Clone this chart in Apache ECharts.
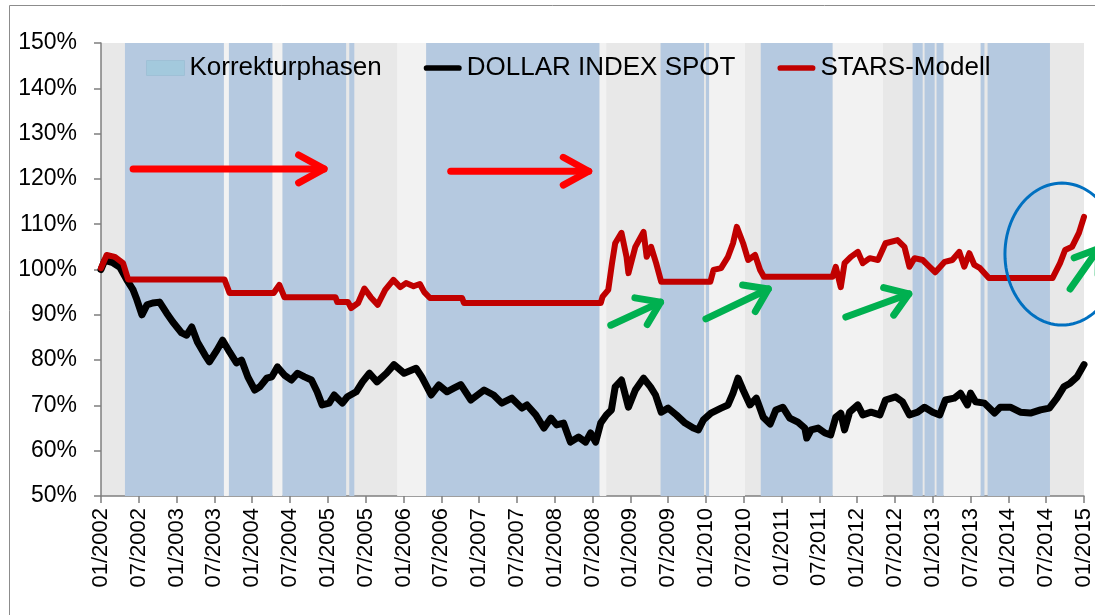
<!DOCTYPE html>
<html><head><meta charset="utf-8">
<script src="https://cdn.jsdelivr.net/npm/echarts@6/dist/echarts.min.js"></script>
<style>html,body{margin:0;padding:0;background:#fff}#c{width:1095px;height:615px}</style>
</head><body><div id="c"></div>
<script>
// x values are months since 01/2002
const xTickLabels = ['01/2002','07/2002','01/2003','07/2003','01/2004','07/2004','01/2005','07/2005','01/2006','07/2006','01/2007','07/2007','01/2008','07/2008','01/2009','07/2009','01/2010','07/2010','01/2011','07/2011','01/2012','07/2012','01/2013','07/2013','01/2014','07/2014','01/2015'];

const dollarIndex = [[0,100.0],[0.6,102.0],[1.9,101.5],[3.0,100.5],[4.1,97.7],[5.1,95.5],[5.7,93.3],[6.5,90.0],[7.3,92.2],[8.2,92.6],[9.3,92.8],[10.4,90.4],[11.4,88.4],[12.8,86.0],[13.6,85.5],[14.4,87.3],[15.3,84.0],[16.5,81.1],[17.2,79.6],[18.4,82.2],[19.3,84.4],[20.4,81.8],[21.5,79.4],[22.3,80.0],[23.3,76.3],[24.4,73.4],[25.2,74.1],[26.3,76.0],[27.1,76.3],[28.0,78.5],[29.1,76.7],[30.2,75.6],[31.2,77.1],[32.3,76.3],[33.4,75.6],[34.3,73.0],[35.1,70.1],[36.2,70.5],[37.0,72.3],[38.3,70.5],[39.1,71.9],[40.5,73.0],[41.5,75.2],[42.6,77.1],[43.8,75.2],[45.3,77.1],[46.5,79.0],[48.1,77.1],[50.0,78.2],[50.9,76.3],[52.4,72.3],[53.6,74.5],[54.9,73.0],[56.0,73.8],[57.1,74.6],[58.7,71.2],[60.8,73.4],[62.3,72.3],[63.6,70.5],[65.2,71.6],[66.8,69.4],[67.6,70.1],[69.0,67.9],[70.3,65.0],[71.4,67.2],[72.3,65.7],[73.4,66.1],[74.5,61.9],[75.8,63.0],[76.9,61.9],[77.7,63.9],[78.5,61.9],[79.3,66.1],[80.2,67.9],[81.0,69.0],[81.6,74.1],[82.6,75.6],[83.7,69.6],[84.8,73.4],[86.1,76.0],[87.2,74.1],[88.0,72.3],[88.9,68.5],[90.0,69.4],[91.3,67.9],[92.7,66.1],[94.0,65.0],[94.8,64.6],[95.6,66.8],[96.8,68.3],[98.4,69.4],[99.5,70.1],[100.3,72.7],[101.1,76.0],[101.9,73.4],[103.0,70.1],[104.0,71.6],[105.1,67.4],[106.2,65.9],[107.1,69.0],[108.2,69.6],[109.3,67.2],[110.6,66.3],[111.7,65.0],[112.0,62.8],[112.7,64.6],[113.8,65.0],[114.9,63.9],[115.8,63.5],[116.6,67.4],[117.4,68.3],[118.0,64.6],[118.8,68.5],[120.1,70.1],[120.9,67.9],[122.2,68.5],[123.6,67.9],[124.5,71.2],[126.1,71.9],[127.2,70.8],[128.3,67.9],[129.6,68.5],[130.7,69.6],[132.0,68.5],[133.1,67.9],[134.0,71.2],[135.4,71.6],[136.4,72.7],[137.5,70.1],[138.0,72.7],[138.8,70.8],[140.2,70.5],[141.8,68.3],[142.7,69.6],[144.3,69.6],[145.9,68.5],[147.5,68.3],[149.1,69.0],[150.5,69.4],[151.7,71.6],[152.8,74.1],[153.8,74.9],[154.9,76.3],[156.0,79.0]];

const starsModell = [[0,100.3],[0.9,103.2],[2.2,102.8],[3.5,101.4],[4.3,97.8],[19.6,97.8],[20.4,94.8],[27.4,94.8],[28.3,96.6],[29.1,93.9],[37.2,93.9],[37.5,92.8],[39.2,92.8],[39.7,91.5],[40.8,92.6],[41.8,95.8],[42.8,93.9],[43.9,92.2],[45.1,95.5],[46.4,97.7],[47.5,96.1],[48.4,97.0],[49.6,96.3],[50.6,96.8],[51.3,95.0],[52.2,93.7],[57.3,93.7],[57.6,92.6],[79.3,92.6],[79.6,94.0],[80.5,95.5],[81.1,101.4],[81.6,105.8],[82.6,108.1],[83.4,102.8],[83.7,99.2],[84.8,105.0],[86.1,108.3],[86.6,102.8],[87.3,105.0],[88.1,101.4],[88.9,97.3],[96.7,97.3],[97.2,99.9],[98.4,100.3],[99.5,102.8],[100.3,105.8],[100.9,109.4],[101.9,105.8],[102.7,102.1],[103.8,103.2],[104.6,99.9],[105.2,98.4],[116.1,98.4],[116.6,100.6],[117.4,96.1],[118.0,101.4],[119.0,102.8],[120.1,103.9],[120.9,101.4],[122.0,102.5],[123.3,102.1],[124.5,105.8],[126.4,106.5],[127.5,105.0],[128.3,100.6],[129.1,102.5],[130.4,102.1],[131.5,100.6],[132.4,99.4],[133.9,101.7],[135.1,102.1],[136.2,103.9],[137.0,100.6],[137.8,103.6],[138.6,101.0],[139.5,100.3],[140.9,98.1],[151.0,98.1],[152.2,101.4],[153.0,104.3],[154.1,105.0],[155.2,108.1],[156.0,111.6]];

// Korrekturphasen (start month, end month)
const korrekturPhasen = [[3.8,19.5],[20.3,27.2],[28.8,38.9],[39.4,40.2],[51.6,79.1],[88.8,95.7],[96.0,96.5],[104.7,116.1],[128.8,130.4],[130.7,132.3],[132.6,133.7],[139.6,140.2],[140.7,150.6]];
// lighter background phases
const hellePhasen = [[19.5,20.3],[27.2,28.8],[47.0,51.6],[79.1,80.2],[96.5,102.2],[116.1,124.1],[133.7,139.6]];

// annotations (data coordinates)
const redArrows = [{from:[5.1,122.2],to:[35.4,122.2]},{from:[55.5,121.7],to:[77.4,121.7]}];
const greenArrows = [{from:[80.9,87.7],to:[88.8,92.8]},{from:[96.0,89.1],to:[105.9,95.7]},{from:[118.2,89.5],to:[128.2,94.6]},{from:[153.8,95.7],to:[158.3,104.6]}];
const blueCircle = {center:[152.5,103.4]};

const chart = echarts.init(document.getElementById('c'), null, {renderer:'canvas'});

function bandRenderer(color){
  return function(params, api){
    const a = api.coord([api.value(0), 150]);
    const b = api.coord([api.value(1), 50]);
    return {type:'rect', shape:{x:a[0], y:a[1], width:b[0]-a[0], height:b[1]-a[1]}, style:{fill:color}, silent:true};
  };
}
const lineIcon = 'path://M3,0 L37,0 A3,3 0 0 1 37,6 L3,6 A3,3 0 0 1 3,0 Z';

const option = {
  animation:false,
  backgroundColor:'#fff',
  textStyle:{fontFamily:'"Liberation Sans", Arial, sans-serif'},
  grid:{left:101,right:8,top:43,bottom:119,show:true,backgroundColor:'#e8e8e8',borderWidth:0},
  legend:{left:146, top:55, padding:0, itemGap:42, itemWidth:38, itemHeight:15,
    textStyle:{fontSize:26,color:'#000'},
    data:[{name:'Korrekturphasen',icon:'rect',itemStyle:{color:'#a3c9dd',borderColor:'#9fc0d6',borderWidth:1}},
          {name:'DOLLAR INDEX SPOT',icon:lineIcon,itemStyle:{color:'#000'}},
          {name:'STARS-Modell',icon:lineIcon,itemStyle:{color:'#c00000'}}]},
  xAxis:{type:'value',min:0,max:156,interval:6,
    axisLine:{show:true,lineStyle:{color:'#7f7f7f',width:1.5}},
    axisTick:{show:true,length:7,lineStyle:{color:'#7f7f7f',width:1.5}},
    splitLine:{show:false},
    axisLabel:{rotate:90,margin:12,fontSize:22,color:'#000',formatter:v=>xTickLabels[Math.round(v/6)]}},
  yAxis:{type:'value',min:50,max:150,interval:10,
    axisLine:{show:true,lineStyle:{color:'#7f7f7f',width:1.5}},
    axisTick:{show:true,length:7,lineStyle:{color:'#7f7f7f',width:1.5}},
    splitLine:{show:false},
    axisLabel:{margin:24,fontSize:23,color:'#000',formatter:'{value}%'}},
  series:[
    {name:'hell', type:'custom', renderItem:bandRenderer('#f2f2f2'), data:hellePhasen, z:1, silent:true},
    {name:'Korrekturphasen', type:'custom', renderItem:bandRenderer('#b5c9e0'), data:korrekturPhasen, z:1, silent:true, itemStyle:{color:'#a3c9dd'}},
    {name:'DOLLAR INDEX SPOT', type:'line', data:dollarIndex, symbol:'none', showSymbol:false, z:3,
      lineStyle:{color:'#000',width:7,cap:'round',join:'round'}, itemStyle:{color:'#000'}},
    {name:'STARS-Modell', type:'line', data:starsModell, symbol:'none', showSymbol:false, z:4,
      lineStyle:{color:'#c00000',width:6,cap:'round',join:'round'}, itemStyle:{color:'#c00000'}}
  ]
};
chart.setOption(option);

function px(p){ return chart.convertToPixel({gridIndex:0}, p); }
const graphics = [];
function arrow(a, color, w, L, ang){
  const s = px(a.from), e = px(a.to);
  const dx = e[0]-s[0], dy = e[1]-s[1];
  const len = Math.hypot(dx,dy), ux = dx/len, uy = dy/len;
  const rot = (x,y,t)=>[x*Math.cos(t)-y*Math.sin(t), x*Math.sin(t)+y*Math.cos(t)];
  const b1 = rot(-ux,-uy,ang), b2 = rot(-ux,-uy,-ang);
  const st = {stroke:color, lineWidth:w, lineCap:'round', lineJoin:'round', fill:'transparent'};
  graphics.push({type:'polyline', z:100, silent:true, shape:{points:[s,e]}, style:st});
  graphics.push({type:'polyline', z:100, silent:true, shape:{points:[[e[0]+b1[0]*L,e[1]+b1[1]*L], e, [e[0]+b2[0]*L,e[1]+b2[1]*L]]}, style:st});
}
redArrows.forEach(a=>arrow(a,'#ff0000',7,29,0.5));
greenArrows.forEach(a=>arrow(a,'#00b050',7,26,0.6));
const c = px(blueCircle.center);
const pts = [];
for(let i=0;i<96;i++){ const t=i/96*Math.PI*2; pts.push([c[0]+57*Math.cos(t), c[1]+71*Math.sin(t)]); }
graphics.push({type:'polygon', z:100, silent:true, shape:{points:pts}, style:{stroke:'#0070c0', lineWidth:3, fill:'transparent'}});
graphics.push({type:'rect', z:0, silent:true, shape:{x:9.5,y:5.5,width:1200,height:800}, style:{stroke:'#8c8c8c',lineWidth:1,fill:'transparent'}});
chart.setOption({graphic:graphics});
</script></body></html>
